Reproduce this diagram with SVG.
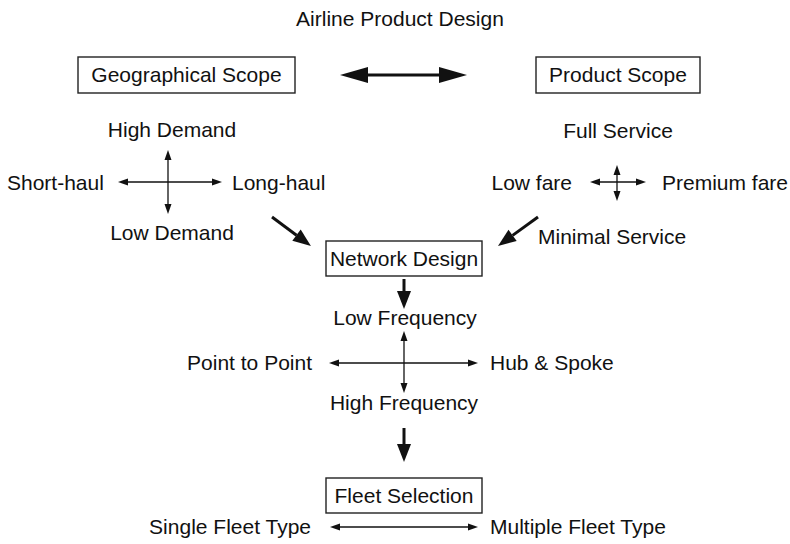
<svg xmlns="http://www.w3.org/2000/svg" width="790" height="544" viewBox="0 0 790 544">
  <defs>
    <style>
      text { font-family: "Liberation Sans", Arial, sans-serif; font-size: 21px; fill: #111; }
      .c { text-anchor: middle; }
      .e { text-anchor: end; }
      .box { fill: #fff; stroke: #222; stroke-width: 1.4; }
      .thin { stroke: #111; stroke-width: 1.3; fill: none; }
      .thick { stroke: #111; stroke-width: 3; fill: none; }
    </style>
    <marker id="sm" markerUnits="userSpaceOnUse" markerWidth="12" markerHeight="10" refX="0" refY="4" orient="auto-start-reverse" overflow="visible">
      <path d="M0,0.5 L10,4 L0,7.5 z" fill="#111"/>
    </marker>
    <marker id="big" markerUnits="userSpaceOnUse" markerWidth="20" markerHeight="16" refX="0" refY="7" orient="auto-start-reverse" overflow="visible">
      <path d="M0,0 L18,7 L0,14 z" fill="#111"/>
    </marker>
    <marker id="huge" markerUnits="userSpaceOnUse" markerWidth="30" markerHeight="18" refX="0" refY="8" orient="auto-start-reverse" overflow="visible">
      <path d="M0,0 L28,8 L0,16 z" fill="#111"/>
    </marker>
  </defs>

  <text id="title" class="c" x="400" y="26">Airline Product Design</text>

  <g id="geo">
    <rect class="box" x="78" y="57" width="217" height="36"/>
    <text class="c" x="186.5" y="82">Geographical Scope</text>
  </g>
  <g id="product">
    <rect class="box" x="536" y="57" width="164" height="36"/>
    <text class="c" x="618" y="82">Product Scope</text>
  </g>
  <g id="network">
    <rect class="box" x="326" y="241" width="156" height="35"/>
    <text class="c" x="404" y="266">Network Design</text>
  </g>
  <g id="fleet">
    <rect class="box" x="326" y="478" width="156" height="35"/>
    <text class="c" x="404" y="503">Fleet Selection</text>
  </g>

  <g id="labels">
    <text class="c" x="172" y="137">High Demand</text>
    <text x="7" y="190">Short-haul</text>
    <text x="232" y="190">Long-haul</text>
    <text class="c" x="172" y="240">Low Demand</text>
    <text class="c" x="618" y="138">Full Service</text>
    <text class="e" x="572" y="190">Low fare</text>
    <text x="662" y="190">Premium fare</text>
    <text x="538" y="244">Minimal Service</text>
    <text class="c" x="405" y="325">Low Frequency</text>
    <text class="e" x="312" y="370">Point to Point</text>
    <text x="490" y="370">Hub &amp; Spoke</text>
    <text class="c" x="404" y="410">High Frequency</text>
    <text class="e" x="311" y="534">Single Fleet Type</text>
    <text x="490" y="534">Multiple Fleet Type</text>
  </g>

  <g id="connectors">
    <line class="thick" x1="368" y1="75" x2="439" y2="75" marker-start="url(#huge)" marker-end="url(#huge)"/>
    <line class="thin" x1="128" y1="182" x2="212" y2="182" marker-start="url(#sm)" marker-end="url(#sm)"/>
    <line class="thin" x1="168" y1="160" x2="168" y2="204" marker-start="url(#sm)" marker-end="url(#sm)"/>
    <line class="thin" x1="600" y1="182" x2="636" y2="182" marker-start="url(#sm)" marker-end="url(#sm)"/>
    <line class="thin" x1="617" y1="175" x2="617" y2="191" marker-start="url(#sm)" marker-end="url(#sm)"/>
    <line class="thick" x1="272" y1="217" x2="296.5" y2="235.2" marker-end="url(#big)"/>
    <line class="thick" x1="538" y1="217" x2="512.6" y2="235.4" marker-end="url(#big)"/>
    <line class="thick" x1="404" y1="279" x2="404" y2="291" marker-end="url(#big)"/>
    <line class="thin" x1="404" y1="341" x2="404" y2="383" marker-start="url(#sm)" marker-end="url(#sm)"/>
    <line class="thin" x1="339" y1="363" x2="468" y2="363" marker-start="url(#sm)" marker-end="url(#sm)"/>
    <line class="thick" x1="404" y1="428" x2="404" y2="444" marker-end="url(#big)"/>
    <line class="thin" x1="340" y1="527" x2="468" y2="527" marker-start="url(#sm)" marker-end="url(#sm)"/>
  </g>
</svg>
